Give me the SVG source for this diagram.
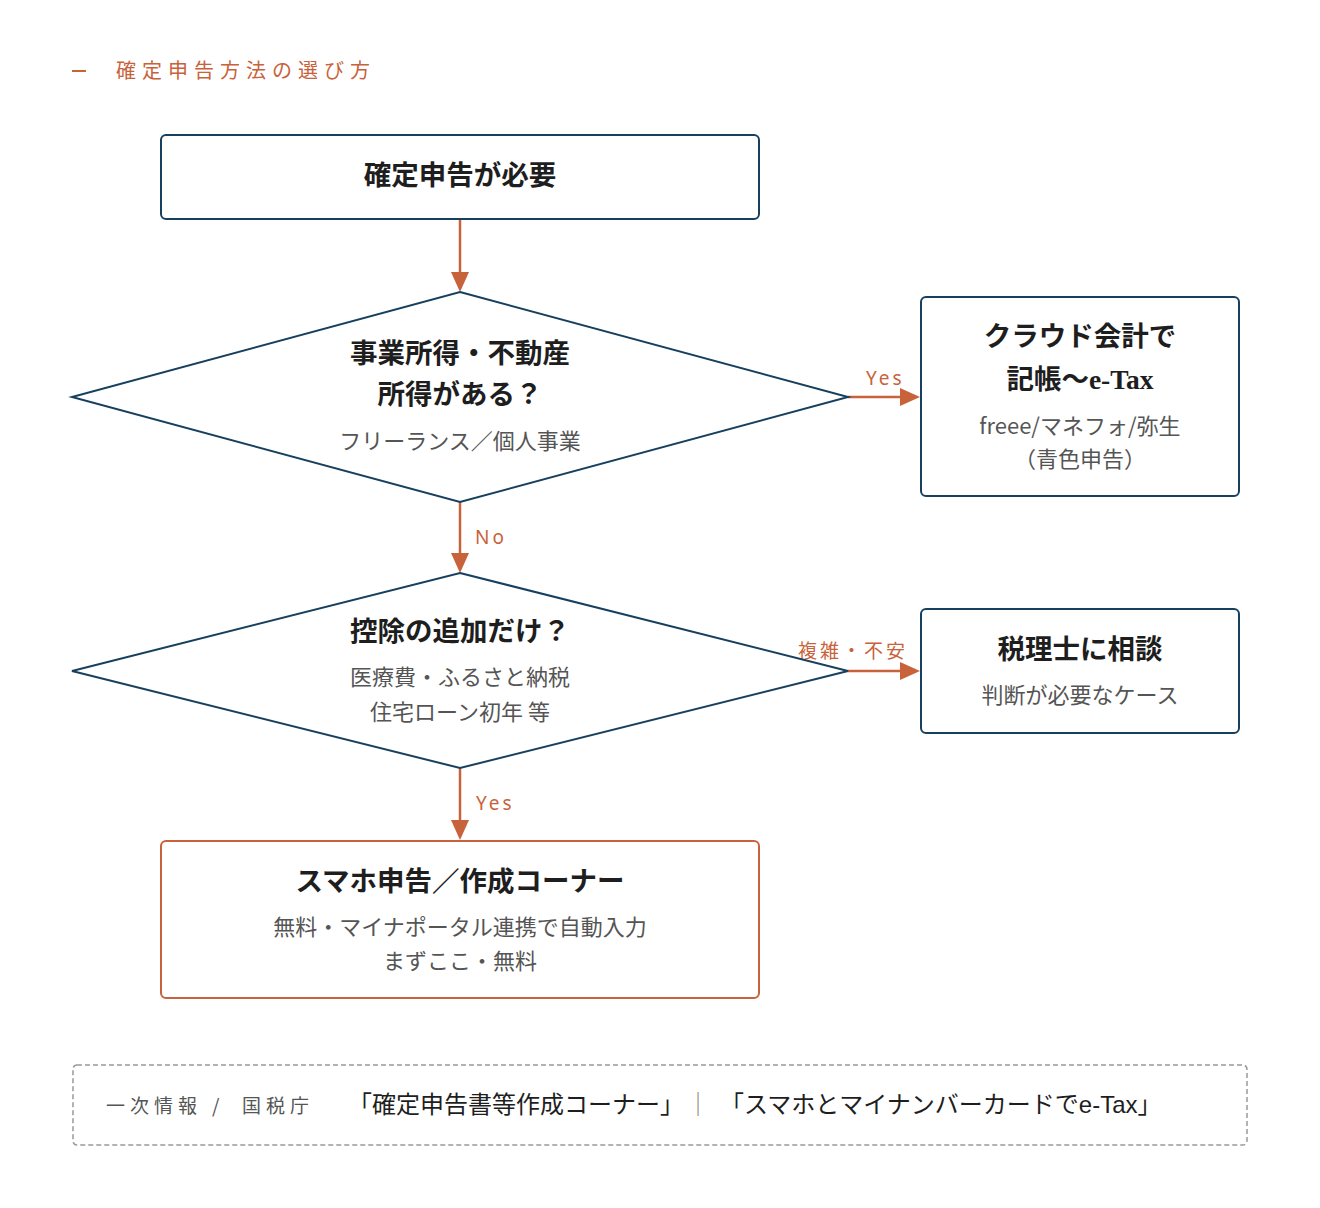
<svg xmlns="http://www.w3.org/2000/svg" width="1320" height="1208" viewBox="0 0 1320 1208">
<style>
.bg{fill:#ffffff}
.node{fill:#ffffff;stroke:#17405f;stroke-width:2}
.nodeo{fill:#ffffff;stroke:#c8623a;stroke-width:2}
.t{font-family:"Liberation Serif","Noto Sans CJK JP",serif;font-weight:700;font-size:27.5px;fill:#1e1e1e;text-anchor:middle}
.s{font-family:"Noto Sans CJK JP","Noto Sans",sans-serif;font-size:22px;fill:#555;text-anchor:middle}
.lab{font-family:"Noto Sans","Noto Sans CJK JP",sans-serif;font-size:19px;fill:#c8623a;letter-spacing:3px}
.conn{stroke:#c8623a;stroke-width:2.5;fill:none}
.head{font-family:"Noto Sans CJK JP",sans-serif;font-size:20px;fill:#c8623a;letter-spacing:6px}
.f1{font-family:"Noto Sans CJK JP",sans-serif;font-size:19px;fill:#555;letter-spacing:5px}
.f2{font-family:"Liberation Sans","Noto Sans CJK JP",sans-serif;font-size:24px;fill:#1e1e1e}
</style>
<defs>
<marker id="ah" markerWidth="10" markerHeight="10" refX="9" refY="5" orient="auto" markerUnits="userSpaceOnUse" viewBox="0 0 10 10">
<path d="M0,0 L10,5 L0,10 Z" fill="#c8623a"/>
</marker>
</defs>
<rect class="bg" x="0" y="0" width="1320" height="1208"/>
<g id="header">
<line x1="72" y1="71" x2="86" y2="71" stroke="#c8623a" stroke-width="2"/>
<text class="head" x="116" y="78">確定申告方法の選び方</text>
</g>
<g id="connectors">
<line class="conn" x1="460" y1="220" x2="460" y2="274"/>
<path d="M451,272 L469,272 L460,292 Z" fill="#c8623a"/>
<line class="conn" x1="460" y1="502" x2="460" y2="555"/>
<path d="M451,553 L469,553 L460,573 Z" fill="#c8623a"/>
<line class="conn" x1="460" y1="768" x2="460" y2="822"/>
<path d="M451,820 L469,820 L460,840 Z" fill="#c8623a"/>
<line class="conn" x1="848" y1="397" x2="902" y2="397"/>
<path d="M900,388 L900,406 L920,397 Z" fill="#c8623a"/>
<line class="conn" x1="848" y1="671" x2="902" y2="671"/>
<path d="M900,662 L900,680 L920,671 Z" fill="#c8623a"/>
<text class="lab" x="866" y="385">Yes</text>
<text class="lab" x="475" y="544">No</text>
<text class="lab" x="476" y="810">Yes</text>
<text class="lab" x="798" y="658" style="letter-spacing:3px">複雑・不安</text>
</g>
<g id="n1">
<rect class="node" x="161" y="135" width="598" height="84" rx="5"/>
<text class="t" x="460" y="185">確定申告が必要</text>
</g>
<g id="d1">
<polygon class="node" points="460,292 848,397 460,502 72,397"/>
<text class="t" x="460" y="363">事業所得・不動産</text>
<text class="t" x="460" y="404">所得がある？</text>
<text class="s" x="460" y="449">フリーランス／個人事業</text>
</g>
<g id="n2">
<rect class="node" x="921" y="297" width="318" height="199" rx="5"/>
<text class="t" x="1080" y="346">クラウド会計で</text>
<text class="t" x="1080" y="389">記帳〜e-Tax</text>
<text class="s" x="1080" y="434">freee/マネフォ/弥生</text>
<text class="s" x="1080" y="467">（青色申告）</text>
</g>
<g id="d2">
<polygon class="node" points="460,573 848,671 460,768 72,671"/>
<text class="t" x="460" y="641">控除の追加だけ？</text>
<text class="s" x="460" y="685">医療費・ふるさと納税</text>
<text class="s" x="460" y="720">住宅ローン初年 等</text>
</g>
<g id="n3">
<rect class="node" x="921" y="609" width="318" height="124" rx="5"/>
<text class="t" x="1080" y="659">税理士に相談</text>
<text class="s" x="1080" y="703">判断が必要なケース</text>
</g>
<g id="n4">
<rect class="nodeo" x="161" y="841" width="598" height="157" rx="5"/>
<text class="t" x="460" y="891">スマホ申告／作成コーナー</text>
<text class="s" x="460" y="935">無料・マイナポータル連携で自動入力</text>
<text class="s" x="460" y="969">まずここ・無料</text>
</g>
<g id="footer">
<rect x="73" y="1065" width="1174" height="80" rx="4" fill="none" stroke="#999" stroke-width="1.5" stroke-dasharray="5,3"/>
<text class="f1" x="106" y="1113">一次情報 <tspan x="212">/</tspan><tspan x="242">国税庁</tspan></text>
<text class="f2" x="348" y="1113">「確定申告書等作成コーナー」</text>
<text class="f2" x="686" y="1113" style="fill:#888">｜</text>
<text class="f2" x="720" y="1113">「スマホとマイナンバーカードでe-Tax」</text>
</g>
</svg>
